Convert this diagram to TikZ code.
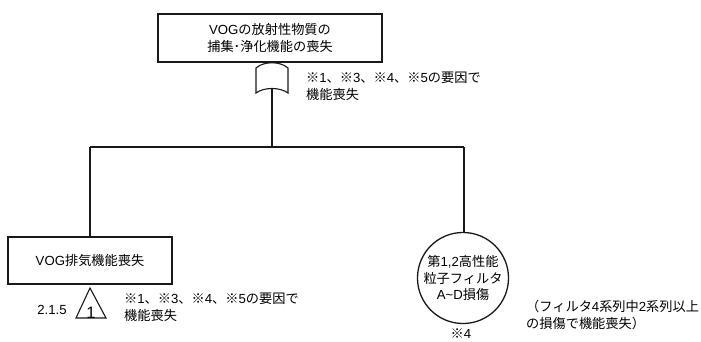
\documentclass[tikz,border=0pt]{standalone}
\usepackage{fontspec}
\setmainfont{Noto Sans CJK JP}
\newfontfamily\lat{Liberation Sans}
\newcommand{\La}[1]{{\lat #1}}
\begin{document}
\begin{tikzpicture}[x=1pt,y=-1pt,
  lw/.style={line width=1.3pt, draw=black!90},
  evbox/.style={lw, rectangle, inner sep=0pt, align=center, font=\fontsize{13.2}{17}\selectfont},
  lbl/.style={inner sep=0pt, align=left, font=\fontsize{13.2}{16.5}\selectfont, anchor=north west},
  txt/.style={inner sep=0pt, font=\fontsize{13.2}{16.5}\selectfont}]
\useasboundingbox (0,0) rectangle (701,342);
% top event
\node[evbox, minimum width=224pt, minimum height=48pt] (top) at (270,38) {\La{VOG}の放射性物質の\\捕集･浄化機能の喪失};
% OR gate (drawn)
\coordinate (gtop) at (272,63);
\coordinate (gbot) at (272,89);
\draw[lw, line width=1.1pt] (256,68) .. controls (264,61) and (280,61) .. (288,68) -- (288,93) .. controls (280,87) and (264,87) .. (256,93) -- cycle;
\node[lbl] (gnote) at (306,72) {※\La{1}、※\La{3}、※\La{4}、※\La{5}の要因で\\機能喪失};
% junction
\coordinate (j) at (272,147);
\coordinate (jl) at (90,147);
\coordinate (jr) at (464,147);
% left event
\node[evbox, minimum width=164pt, minimum height=47pt] (vog) at (90,260.5) {\La{VOG}排気機能喪失};
% basic event circle
\node[lw, circle, minimum size=86pt, inner sep=0pt, align=center, font=\fontsize{13.2}{16.5}\selectfont] (filt) at (463,278) {第\La{1,2}高性能\\粒子フィルタ\\\La{A\textasciitilde D}損傷};
\node[txt] (s4) at (461,334) {※\La{4}};
\node[lbl] (fnote) at (526,300) {（フィルタ\La{4}系列中\La{2}系列以上\\の損傷で機能喪失）};
% transfer triangle
\coordinate (ta) at (90,288);
\coordinate (tl) at (76,318);
\coordinate (tr) at (106,318);
\draw[lw, line width=1.1pt] (ta) -- (tl) -- (tr) -- cycle;
\node[inner sep=0pt, font=\lat\fontsize{16.5}{18}\selectfont, anchor=base] (t1) at (91,318) {1};
\node[txt] (tref) at (52,310) {\La{2.1.5}};
\node[lbl] (tnote) at (124,293) {※\La{1}、※\La{3}、※\La{4}、※\La{5}の要因で\\機能喪失};
% connectors
\draw[lw] (gbot) -- (j);
\draw[lw] (jl) -- (jr);
\draw[lw] (jl) -- (vog.north);
\draw[lw] (jr) -- (jr |- filt.north);
\end{tikzpicture}
\end{document}
